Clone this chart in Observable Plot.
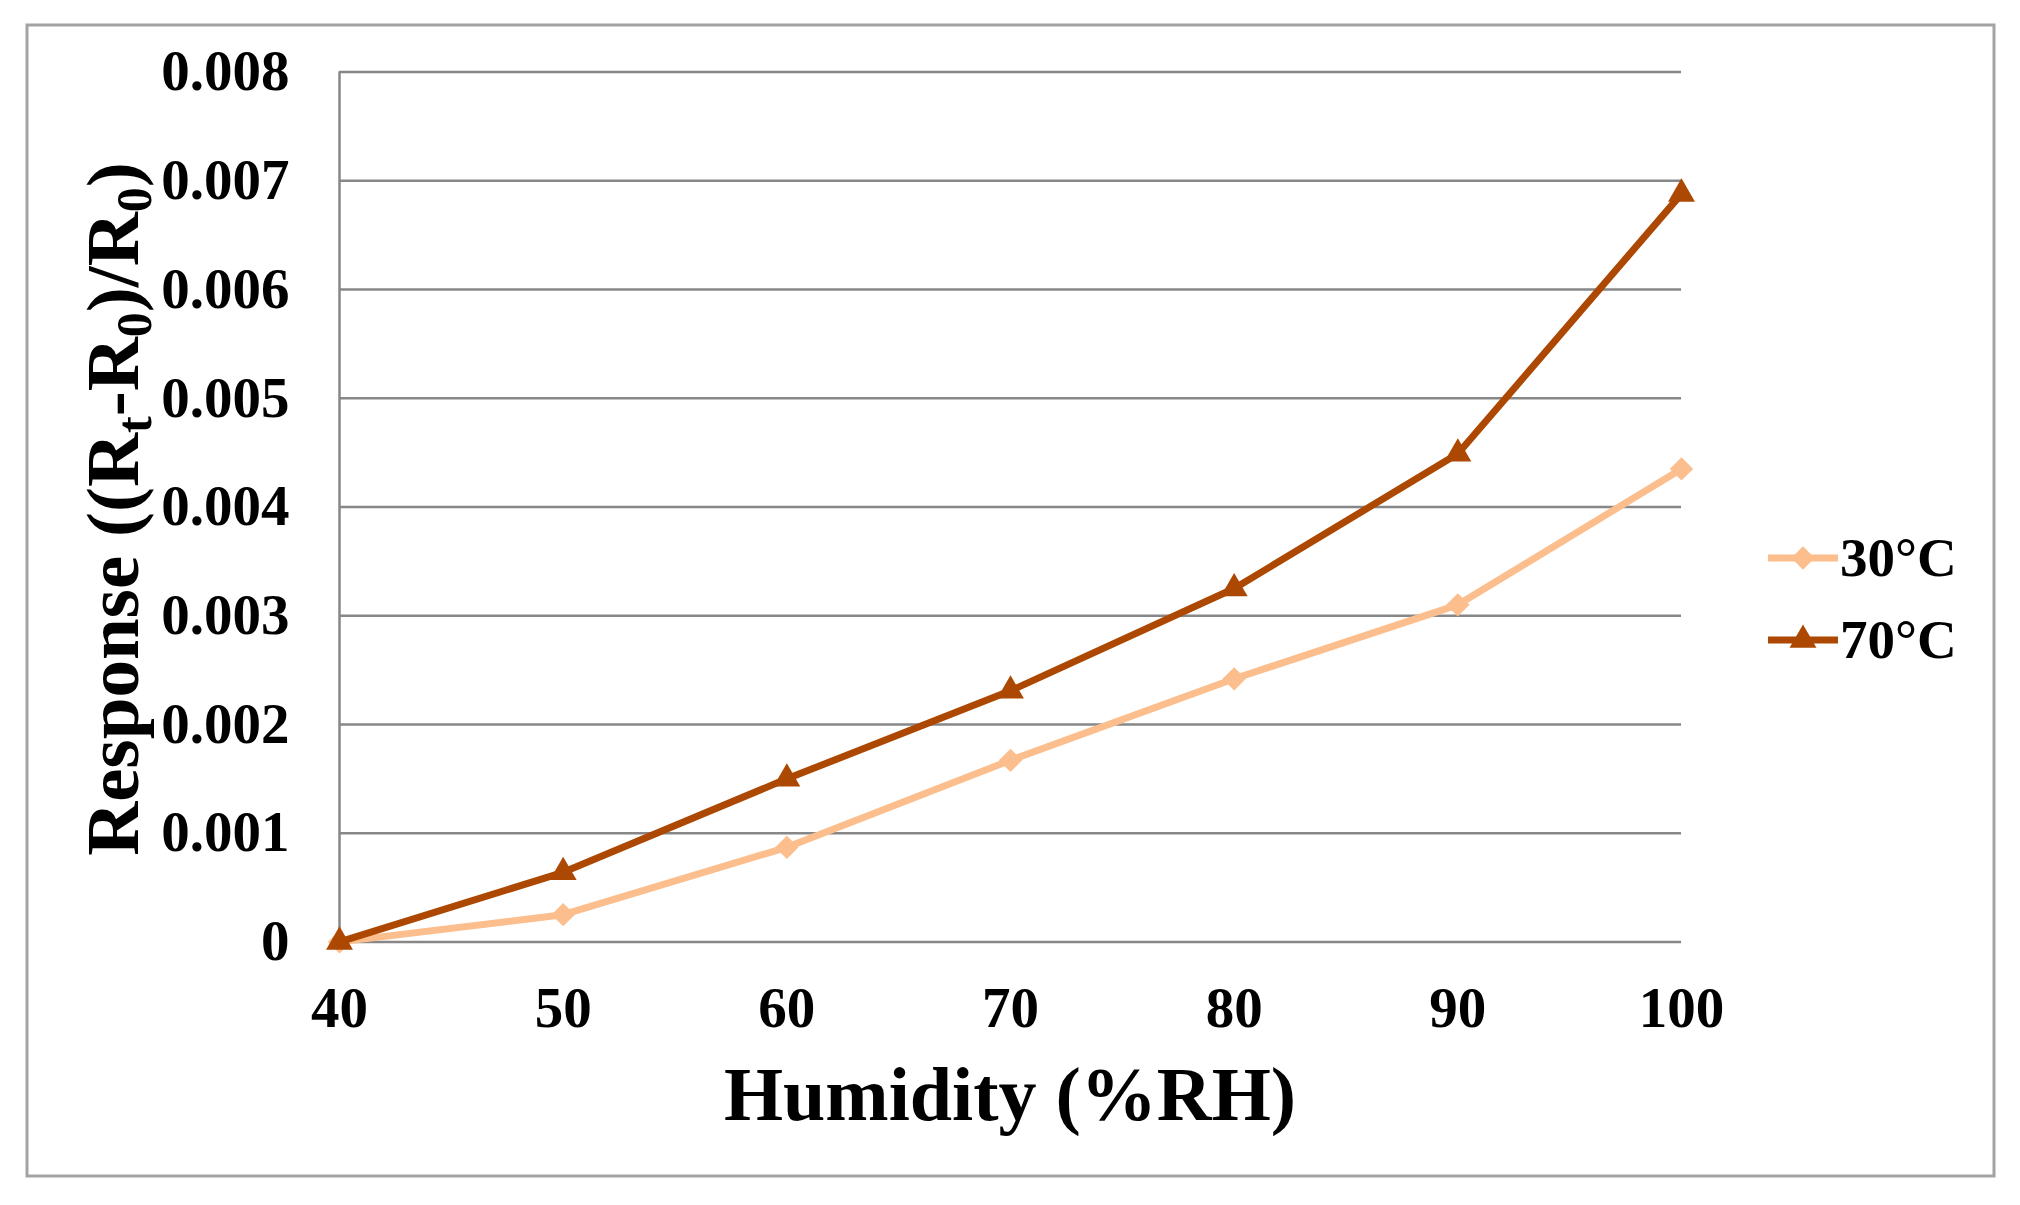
<!DOCTYPE html>
<html>
<head>
<meta charset="utf-8">
<script src="https://cdn.jsdelivr.net/npm/d3@7"></script>
<script src="https://cdn.jsdelivr.net/npm/@observablehq/plot@0.6"></script>
<style>
  html, body { margin: 0; padding: 0; background: #ffffff; }
  #chart { position: relative; width: 2020px; height: 1205px; }
</style>
</head>
<body>
<div id="chart"></div>
<script>
// ---- data ----
const humidity = [40, 50, 60, 70, 80, 90, 100];
const resp30 = [0, 0.00025, 0.00087, 0.00167, 0.00242, 0.0031, 0.00435];
const resp70 = [0, 0.00064, 0.0015, 0.00231, 0.00325, 0.00449, 0.00688];
const seriesNames = ["30°C", "70°C"];
const seriesColors = ["#FBBE8C", "#AD4802"];
const seriesSymbols = ["diamond2", "triangle"];
const yTicks = [0, 0.001, 0.002, 0.003, 0.004, 0.005, 0.006, 0.007, 0.008];
const xTicks = [40, 50, 60, 70, 80, 90, 100];
const xTitle = "Humidity (%RH)";

const gridColor = "#878787";
const fontFamily = "'Liberation Serif', 'Times New Roman', serif";
const symbolR = [10.5, 10];

const chart = Plot.plot({
  width: 2020,
  height: 1205,
  marginLeft: 339,
  marginRight: 339,
  marginTop: 71.6,
  marginBottom: 263.6,
  x: { domain: [40, 100] },
  y: { domain: [0, 0.008] },
  style: {
    fontFamily: fontFamily,
    fontSize: "57px",
    fontWeight: "bold",
    color: "#000",
    background: "#ffffff",
    overflow: "visible"
  },
  marks: [
    Plot.gridY(yTicks, { stroke: gridColor, strokeOpacity: 1, strokeWidth: 2.5 }),
    Plot.ruleX([40], { y1: 0, y2: 0.008, stroke: gridColor, strokeOpacity: 1, strokeWidth: 2.5 }),
    Plot.axisY(yTicks, {
      tickSize: 0, tickPadding: 50, label: null,
      tickFormat: d => d === 0 ? "0" : d3.format(".3f")(d)
    }),
    Plot.axisX(xTicks, { tickSize: 0, tickPadding: 45, label: null, tickFormat: d => String(d) }),
    Plot.line(humidity, { x: humidity, y: resp30, stroke: seriesColors[0], strokeWidth: 7 }),
    Plot.dot(humidity, { x: humidity, y: resp30, symbol: seriesSymbols[0], r: symbolR[0], fill: seriesColors[0], stroke: "none" }),
    Plot.line(humidity, { x: humidity, y: resp70, stroke: seriesColors[1], strokeWidth: 7 }),
    Plot.dot(humidity, { x: humidity, y: resp70, symbol: seriesSymbols[1], r: symbolR[1], fill: seriesColors[1], stroke: "none" })
  ]
});

const svg = d3.select(chart);

// outer frame of the figure
svg.insert("rect", ":first-child")
  .attr("x", 27).attr("y", 25).attr("width", 1967).attr("height", 1151)
  .attr("fill", "#ffffff").attr("stroke", "#a3a3a3").attr("stroke-width", 3);

// x axis title
svg.append("text")
  .attr("x", 1010).attr("y", 1120)
  .attr("text-anchor", "middle")
  .attr("font-family", fontFamily).attr("font-weight", "bold").attr("font-size", 76)
  .attr("fill", "#000")
  .text(xTitle);

// y axis title with subscripts
const yt = svg.append("text")
  .attr("transform", "translate(138,509) rotate(-90)")
  .attr("text-anchor", "middle")
  .attr("font-family", fontFamily).attr("font-weight", "bold").attr("font-size", 75)
  .attr("fill", "#000");
const parts = [["Response ((R", false], ["t", true], ["-R", false], ["0", true], [")/R", false], ["0", true], [")", false]];
let shifted = false;
parts.forEach(([t, sub]) => {
  const ts = yt.append("tspan").text(t);
  if (sub) { ts.attr("font-size", 50).attr("dy", 13); shifted = true; }
  else if (shifted) { ts.attr("dy", -13); shifted = false; }
});

// legend
const legendY = [558, 640];
seriesNames.forEach((name, i) => {
  const g = svg.append("g");
  g.append("line")
    .attr("x1", 1768).attr("x2", 1838).attr("y1", legendY[i]).attr("y2", legendY[i])
    .attr("stroke", seriesColors[i]).attr("stroke-width", 7);
  const sym = i === 0 ? d3.symbolDiamond2 : d3.symbolTriangle;
  const size = Math.PI * symbolR[i] ** 2;
  g.append("path")
    .attr("d", d3.symbol(sym, size)())
    .attr("transform", `translate(1803,${legendY[i]})`)
    .attr("fill", seriesColors[i]);
  g.append("text")
    .attr("x", 1840).attr("y", legendY[i] + 18)
    .attr("text-anchor", "start")
    .attr("font-family", fontFamily).attr("font-weight", "bold").attr("font-size", 55)
    .attr("fill", "#000")
    .text(name);
});

document.getElementById("chart").appendChild(chart);
</script>
</body>
</html>
